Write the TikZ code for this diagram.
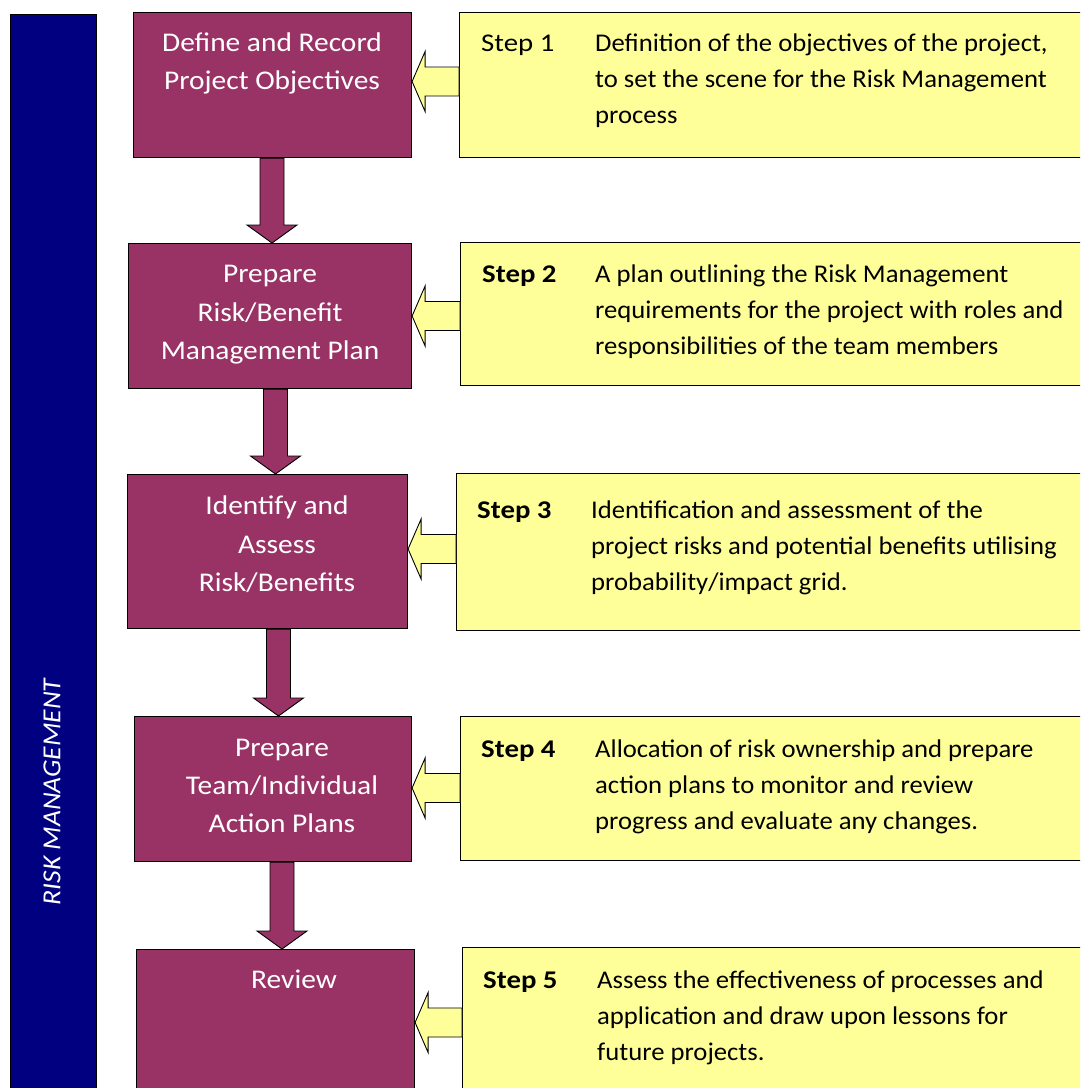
\documentclass[tikz,border=0pt]{standalone}
\usepackage{fontspec}
\setmainfont{Carlito}
\usetikzlibrary{calc}
\definecolor{plum}{HTML}{993366}
\definecolor{paleyellow}{HTML}{FFFF99}
\definecolor{navyblue}{HTML}{000080}
\tikzset{
  pbox/.style={draw=black, line width=1.1pt, fill=plum, inner sep=0pt, anchor=north west},
  ybox/.style={draw=black, line width=1.1pt, fill=paleyellow, inner sep=0pt, anchor=north west},
  ptext/.style={text=white, font=\fontsize{27}{30}\selectfont, anchor=base, inner sep=0pt, xscale=1.09},
  ytext/.style={text=black, font=\fontsize{25.5}{30}\selectfont, anchor=base west, inner sep=0pt, xscale=1.046},
  ylabel/.style={text=black, font=\fontsize{25.5}{30}\selectfont\bfseries, anchor=base west, inner sep=0pt, xscale=1.13},
  ylabelplain/.style={text=black, font=\fontsize{25.5}{30}\selectfont, anchor=base west, inner sep=0pt, xscale=1.13},
  parrow/.style={draw=black, line width=0.9pt, fill=plum, line join=miter},
  yarrow/.style={draw=black, line width=0.9pt, fill=paleyellow, line join=miter},
}
% down block arrow: #1 from node, #2 to node, #3 x-coordinate name
\newcommand\downblock[3]{%
  \draw[parrow] ($(#1.south -| #3)+(-12,0)$) -- ($(#2.north -| #3)+(-12,18)$)
    -- ($(#2.north -| #3)+(-25,18)$) -- (#2.north -| #3)
    -- ($(#2.north -| #3)+(25,18)$) -- ($(#2.north -| #3)+(12,18)$)
    -- ($(#1.south -| #3)+(12,0)$) -- cycle;}
% left block arrow: #1 from node (yellow), #2 to node (purple), #3 y-coordinate name
\newcommand\leftblock[3]{%
  \draw[yarrow] (#2.east |- #3) -- ($(#2.east |- #3)+(13,30)$)
    -- ($(#2.east |- #3)+(13,14.5)$) -- ($(#1.west |- #3)+(0,14.5)$)
    -- ($(#1.west |- #3)+(0,-14.5)$) -- ($(#2.east |- #3)+(13,-14.5)$)
    -- ($(#2.east |- #3)+(13,-30)$) -- cycle;}
\begin{document}
\begin{tikzpicture}[x=1pt,y=1pt]
\clip (0,0) rectangle (1080,-1088);
\fill[white] (0,0) rectangle (1080,-1088);

% left bar
\node[draw=black, line width=1.1pt, fill=navyblue, inner sep=0pt, anchor=north west,
      minimum width=86pt, minimum height=1090pt] (bar) at (10,-14) {};
\node[text=white, rotate=90, font=\fontsize{26}{30}\selectfont\itshape, xscale=1.06, inner sep=0pt] (bartext) at (52,-792) {RISK MANAGEMENT};

% purple boxes
\node[pbox, minimum width=278pt, minimum height=145pt] (b1) at (133,-12) {};
\node[pbox, minimum width=283pt, minimum height=145pt] (b2) at (128,-243) {};
\node[pbox, minimum width=280pt, minimum height=154pt] (b3) at (127,-474) {};
\node[pbox, minimum width=277pt, minimum height=145pt] (b4) at (134,-716) {};
\node[pbox, minimum width=278pt, minimum height=160pt] (b5) at (136,-949) {};

% yellow boxes
\node[ybox, minimum width=640pt, minimum height=145pt] (y1) at (459,-12) {};
\node[ybox, minimum width=640pt, minimum height=143pt] (y2) at (460,-242) {};
\node[ybox, minimum width=640pt, minimum height=157pt] (y3) at (456,-473) {};
\node[ybox, minimum width=640pt, minimum height=144pt] (y4) at (460,-716) {};
\node[ybox, minimum width=640pt, minimum height=160pt] (y5) at (462,-947) {};

% purple text
\node[ptext] (t1a) at (272,-51) {Define and Record};
\node[ptext] (t1b) at (272,-89) {Project Objectives};
\node[ptext] (t2a) at (270,-282) {Prepare};
\node[ptext] (t2b) at (270,-321) {Risk/Benefit};
\node[ptext] (t2c) at (270,-359) {Management Plan};
\node[ptext] (t3a) at (277,-514) {Identify and};
\node[ptext] (t3b) at (277,-553) {Assess};
\node[ptext] (t3c) at (277,-591) {Risk/Benefits};
\node[ptext] (t4a) at (282,-756) {Prepare};
\node[ptext] (t4b) at (282,-794) {Team/Individual};
\node[ptext] (t4c) at (282,-832) {Action Plans};
\node[ptext] (t5a) at (294,-988) {Review};

% yellow text
\node[ylabelplain] (s1) at (481,-51) {Step 1};
\node[ytext] (d1a) at (595,-51) {Definition of the objectives of the project,};
\node[ytext] (d1b) at (595,-87) {to set the scene for the Risk Management};
\node[ytext] (d1c) at (595,-123) {process};

\node[ylabel] (s2) at (482,-282) {Step 2};
\node[ytext] (d2a) at (595,-282) {A plan outlining the Risk Management};
\node[ytext] (d2b) at (595,-318) {requirements for the project with roles and};
\node[ytext] (d2c) at (595,-354) {responsibilities of the team members};

\node[ylabel] (s3) at (477,-518) {Step 3};
\node[ytext] (d3a) at (591,-518) {Identification and assessment of the};
\node[ytext] (d3b) at (591,-554) {project risks and potential benefits utilising};
\node[ytext] (d3c) at (591,-590) {probability/impact grid.};

\node[ylabel] (s4) at (481,-757) {Step 4};
\node[ytext] (d4a) at (595,-757) {Allocation of risk ownership and prepare};
\node[ytext] (d4b) at (595,-793) {action plans to monitor and review};
\node[ytext] (d4c) at (595,-829) {progress and evaluate any changes.};

\node[ylabel] (s5) at (483,-988) {Step 5};
\node[ytext] (d5a) at (597,-988) {Assess the effectiveness of processes and};
\node[ytext] (d5b) at (597,-1024) {application and draw upon lessons for};
\node[ytext] (d5c) at (597,-1060) {future projects.};

% down arrows
\coordinate (x1) at (272,0);
\coordinate (x2) at (275.5,0);
\coordinate (x3) at (278.5,0);
\coordinate (x4) at (282,0);
\downblock{b1}{b2}{x1}
\downblock{b2}{b3}{x2}
\downblock{b3}{b4}{x3}
\downblock{b4}{b5}{x4}

% left arrows
\coordinate (h1) at (0,-81.5);
\coordinate (h2) at (0,-316);
\coordinate (h3) at (0,-549);
\coordinate (h4) at (0,-788);
\coordinate (h5) at (0,-1022.5);
\leftblock{y1}{b1}{h1}
\leftblock{y2}{b2}{h2}
\leftblock{y3}{b3}{h3}
\leftblock{y4}{b4}{h4}
\leftblock{y5}{b5}{h5}
\end{tikzpicture}
\end{document}
